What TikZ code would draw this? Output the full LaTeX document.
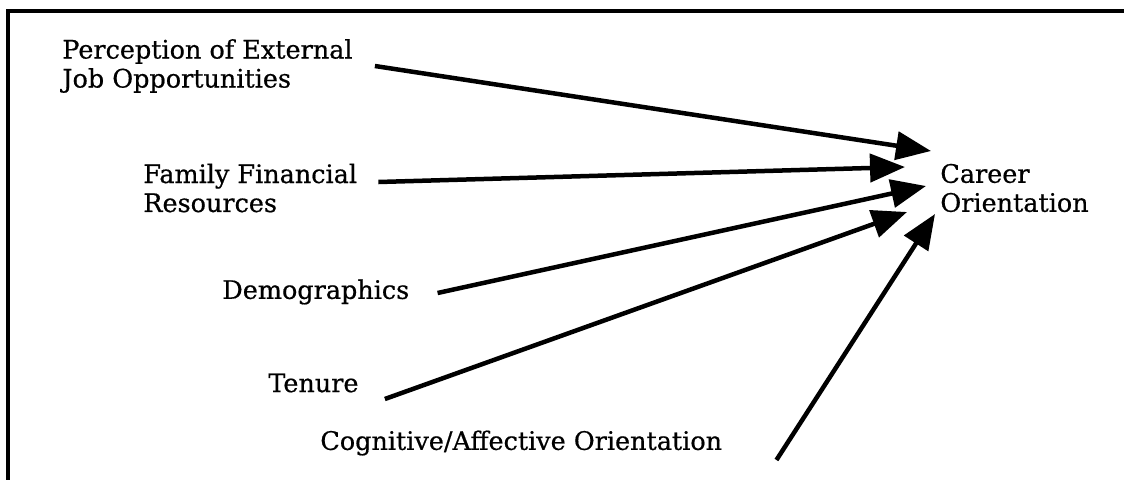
\documentclass[tikz,border=0pt]{standalone}
\usepackage{fontspec}
\setmainfont{DejaVu Serif}
\newfontfamily\labelfont{DejaVu Serif}[FakeBold=0.6]
\usepackage{tikz}
\usetikzlibrary{arrows.meta}

\begin{document}
\begin{tikzpicture}[x=0.02cm,y=-0.02cm]
    %
    % `factor' is used for the text of the influences and the outcome.
    % `arrow' is used for the thick arrows into the outcome.
    % `frame' is used for the open border of the figure.
    \tikzstyle{factor} = [anchor=west,inner sep=0pt,align=left,font=\labelfont\fontsize{14.5}{16.5}\selectfont]
    \tikzstyle{arrow} = [line width=0.09cm,-{Triangle[length=0.7cm,width=0.56cm]}]
    \tikzstyle{frame} = [line width=0.065cm]
    %
    \useasboundingbox (0,0) rectangle (1124,480);
    \draw[frame] (1124,11) -- (8,11) -- (8,480);
    %
    % Influences
    \node[factor] at (62,66) (perc) {Perception of External\\Job Opportunities};
    \node[factor] at (143,188) (fam) {Family Financial\\Resources};
    \node[factor] at (222,292) (demo) {Demographics};
    \node[factor] at (268,383) (ten) {Tenure};
    \node[factor] at (320,443) (cog) {Cognitive/Affective Orientation};
    %
    % Outcome
    \node[factor] at (940,188) (career) {Career\\Orientation};
    %
    % Arrow tips
    \coordinate (t1) at (931,151);
    \coordinate (t2) at (905,167);
    \coordinate (t3) at (926,186);
    \coordinate (t4) at (907,212);
    \coordinate (t5) at (935,214);
    %
    % Arrows
    \draw[arrow] ([shift={(22,0)}]perc.east) -- (t1);
    \draw[arrow] ([shift={(21,-6)}]fam.east) -- (t2);
    \draw[arrow] ([shift={(28,1)}]demo.east) -- (t3);
    \draw[arrow] ([shift={(26,16)}]ten.east) -- (t4);
    \draw[arrow] ([shift={(54,17)}]cog.east) -- (t5);
    %
\end{tikzpicture}
\end{document}
